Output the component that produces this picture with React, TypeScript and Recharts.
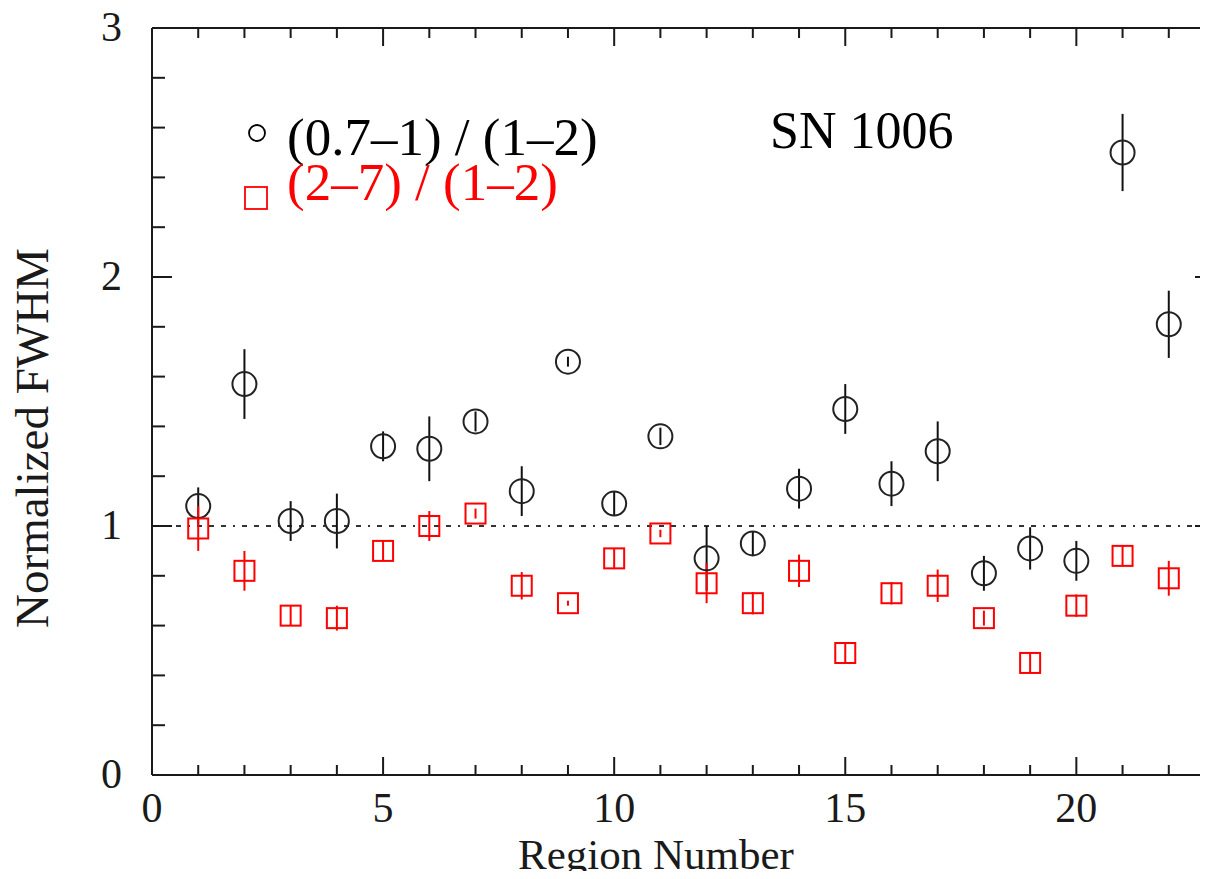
import { ScatterChart, Scatter, XAxis, YAxis, ErrorBar, ReferenceLine } from 'recharts';

// region numbers along the x axis
const regions = [1, 2, 3, 4, 5, 6, 7, 8, 9, 10, 11, 12, 13, 14, 15, 16, 17, 18, 19, 20, 21, 22];

// (0.7-1) / (1-2) keV ratio, black circles
const softRatio = [1.08, 1.57, 1.02, 1.02, 1.32, 1.31, 1.42, 1.14, 1.66, 1.09, 1.36, 0.87, 0.93, 1.15, 1.47, 1.17, 1.3, 0.81, 0.91, 0.86, 2.5, 1.81];
const softErr = [0.075, 0.14, 0.08, 0.11, 0.06, 0.13, 0.04, 0.1, 0.02, 0.05, 0.035, 0.13, 0.05, 0.08, 0.1, 0.09, 0.12, 0.07, 0.085, 0.08, 0.155, 0.135];

// (2-7) / (1-2) keV ratio, red squares
const hardRatio = [0.99, 0.82, 0.64, 0.63, 0.9, 1.0, 1.05, 0.76, 0.69, 0.87, 0.97, 0.77, 0.69, 0.82, 0.49, 0.73, 0.76, 0.63, 0.45, 0.68, 0.88, 0.79];
const hardErr = [0.09, 0.08, 0.04, 0.05, 0.04, 0.06, 0.02, 0.055, 0.01, 0.04, 0.015, 0.08, 0.045, 0.065, 0.04, 0.045, 0.065, 0.03, 0.04, 0.045, 0.04, 0.07];

const xTicks = [0, 1, 2, 3, 4, 5, 6, 7, 8, 9, 10, 11, 12, 13, 14, 15, 16, 17, 18, 19, 20, 21, 22, 23];
const yTicks = [0, 0.2, 0.4, 0.6, 0.8, 1, 1.2, 1.4, 1.6, 1.8, 2, 2.2, 2.4, 2.6, 2.8, 3];

const softData = regions.map((r, i) => ({ x: r, y: softRatio[i], err: softErr[i] }));
const hardData = regions.map((r, i) => ({ x: r, y: hardRatio[i], err: hardErr[i] }));

const FONT = '"Liberation Serif", "Times New Roman", serif';
const INK = '#1a1a1a';

const isMajorY = (v: number) => Math.abs(v - Math.round(v)) < 1e-6;

// vertical tick marks drawn as thin rects (stroked vertical paths didn't show up)
const BottomTick = (p: any) => {
    const v = p.payload.value;
    const major = v % 5 === 0;
    const x = Number(p.x);
    const y = Number(p.y);
    const len = major ? 18 : 10;
    return (
        <g>
            <rect x={x - 1} y={y - len} width={2} height={len} fill={INK} stroke="none" />
            {major && (
                <text x={x} y={y + 47} textAnchor="middle" fontFamily={FONT} fontSize={42} fill={INK}>
                    {v}
                </text>
            )}
        </g>
    );
};

const TopTick = (p: any) => {
    const major = p.payload.value % 5 === 0;
    const x = Number(p.x);
    const y = Number(p.y);
    return <rect x={x - 1} y={y} width={2} height={major ? 18 : 10} fill={INK} stroke="none" />;
};

const LeftTick = (p: any) => {
    const v = p.payload.value;
    const major = isMajorY(v);
    return (
        <g>
            <path d={`M${p.x},${p.y}H${p.x + (major ? 20 : 13)}`} stroke={INK} strokeWidth={2} fill="none" />
            {major && (
                <text x={p.x - 30} y={p.y + 13} textAnchor="end" fontFamily={FONT} fontSize={42} fill={INK}>
                    {Math.round(v)}
                </text>
            )}
        </g>
    );
};

const RightTick = (p: any) => {
    const major = isMajorY(p.payload.value);
    return <path d={`M${p.x},${p.y}H${p.x - (major ? 20 : 13)}`} stroke={INK} strokeWidth={2} fill="none" />;
};

const CircleMark = (p: any) => <circle cx={p.cx} cy={p.cy} r={12} fill="none" stroke="#222" strokeWidth={2} />;
const SquareMark = (p: any) => (
    <rect x={p.cx - 10} y={p.cy - 10} width={20} height={20} fill="none" stroke="#ff0000" strokeWidth={2} />
);

const axisLine = { stroke: INK, strokeWidth: 2 };

const App = () => {
    return (
        <div style={{ position: 'relative', width: 1192, height: 863 }}>
            <div style={{ position: 'absolute', left: -8, top: -8, width: 1208, height: 879, overflow: 'hidden' }}>
                <ScatterChart width={1238} height={879} margin={{ top: 27, right: 22, left: 8, bottom: 44 }}>
                    <XAxis
                        type="number"
                        dataKey="x"
                        domain={[0, 23]}
                        ticks={xTicks}
                        interval={0}
                        height={60}
                        tickSize={0}
                        tickMargin={0}
                        tickLine={false}
                        axisLine={axisLine}
                        tick={BottomTick}
                    />
                    <XAxis
                        xAxisId="top"
                        orientation="top"
                        type="number"
                        dataKey="x"
                        domain={[0, 23]}
                        ticks={xTicks}
                        interval={0}
                        height={1}
                        tickSize={0}
                        tickMargin={0}
                        tickLine={false}
                        axisLine={axisLine}
                        tick={TopTick}
                    />
                    <YAxis
                        type="number"
                        dataKey="y"
                        domain={[0, 3]}
                        ticks={yTicks}
                        interval={0}
                        width={144}
                        tickSize={0}
                        tickMargin={0}
                        tickLine={false}
                        axisLine={axisLine}
                        tick={LeftTick}
                    />
                    <YAxis
                        yAxisId="right"
                        orientation="right"
                        type="number"
                        dataKey="y"
                        domain={[0, 3]}
                        ticks={yTicks}
                        interval={0}
                        width={1}
                        tickSize={0}
                        tickMargin={0}
                        tickLine={false}
                        axisLine={axisLine}
                        tick={RightTick}
                    />
                    <ReferenceLine y={1} stroke="#333" strokeWidth={2} strokeDasharray="5 7 5 7 5 7 2 7" />
                    <Scatter data={softData} shape={CircleMark} isAnimationActive={false}>
                        <ErrorBar dataKey="err" direction="y" width={0} stroke="#111" strokeWidth={2} />
                    </Scatter>
                    {/* same domains as bottom/left, bound to the frame axes so they get drawn */}
                    <Scatter
                        data={hardData}
                        xAxisId="top"
                        yAxisId="right"
                        shape={SquareMark}
                        isAnimationActive={false}
                    >
                        <ErrorBar dataKey="err" direction="y" width={0} stroke="#ff0000" strokeWidth={2} />
                    </Scatter>
                </ScatterChart>
                <svg width={1208} height={879} style={{ position: 'absolute', left: 0, top: 0, pointerEvents: 'none' }}>
                    <text x={656} y={869} textAnchor="middle" fontFamily={FONT} fontSize={43} fill={INK}>
                        Region Number
                    </text>
                    <text
                        transform="translate(48, 438) rotate(-90)"
                        textAnchor="middle"
                        fontFamily={FONT}
                        fontSize={47}
                        fill={INK}
                    >
                        Normalized FWHM
                    </text>
                    <circle cx={257} cy={133} r={8} fill="none" stroke="#000" strokeWidth={1.8} />
                    <text x={287} y={155} fontFamily={FONT} fontSize={53} fill="#000">
                        (0.7–1) / (1–2)
                    </text>
                    <rect x={245} y={187} width={22} height={22} fill="none" stroke="#ff0000" strokeWidth={1.8} />
                    <text x={287} y={200} fontFamily={FONT} fontSize={53} fill="#ff0000">
                        (2–7) / (1–2)
                    </text>
                    <text x={770} y={148} fontFamily={FONT} fontSize={52} fill="#000">
                        SN 1006
                    </text>
                </svg>
            </div>
        </div>
    );
};

export default App;
